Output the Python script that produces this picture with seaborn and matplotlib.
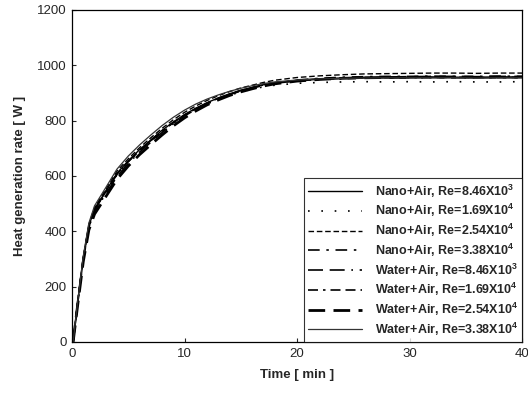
import numpy as np
import pandas as pd
import matplotlib
matplotlib.use("Agg")
import matplotlib.pyplot as plt
import seaborn as sns

# ---- data ----
time_min = [0.1, 0.5, 1.0, 1.5, 2, 3, 4, 5, 6, 7, 8, 9, 10, 11, 12, 13, 14, 15,
            16, 17, 18, 20, 22, 24, 26, 28, 30, 32, 34, 36, 38, 40]

nano_846e3 = [0, 140, 300, 420, 480, 545, 610, 655, 695, 730, 765, 795, 822, 845, 865, 882,
              897, 910, 920, 930, 937, 946, 951, 954, 956, 957, 957, 958, 957, 957, 958, 958]
nano_169e4 = [0, 135, 295, 415, 475, 540, 605, 650, 690, 725, 758, 790, 818, 840, 860, 878,
              892, 904, 914, 922, 928, 935, 938, 940, 941, 940, 941, 940, 941, 940, 940, 941]
nano_254e4 = [0, 145, 305, 425, 485, 552, 618, 662, 702, 738, 772, 803, 830, 853, 873, 890,
              905, 918, 928, 938, 946, 956, 962, 966, 969, 970, 971, 972, 972, 971, 972, 972]
nano_338e4 = [0, 140, 300, 418, 478, 542, 606, 652, 692, 728, 762, 793, 820, 843, 863, 880,
              895, 908, 919, 929, 937, 947, 953, 957, 959, 960, 960, 961, 960, 960, 961, 960]
water_846e3 = [0, 138, 298, 415, 472, 535, 598, 645, 686, 722, 757, 789, 817, 841, 862, 879,
               894, 907, 918, 927, 935, 944, 949, 952, 954, 955, 955, 956, 955, 955, 956, 955]
water_169e4 = [0, 140, 302, 420, 478, 543, 607, 652, 692, 728, 762, 793, 820, 843, 863, 881,
               896, 909, 919, 929, 936, 945, 950, 953, 955, 956, 956, 956, 957, 956, 956, 957]
water_254e4 = [0, 132, 290, 405, 462, 525, 588, 636, 677, 713, 748, 781, 810, 835, 857, 875,
               891, 904, 915, 925, 933, 943, 949, 953, 955, 956, 957, 958, 958, 957, 958, 958]
water_338e4 = [0, 145, 310, 430, 492, 558, 625, 672, 712, 748, 782, 812, 838, 860, 878, 893,
               906, 917, 926, 934, 940, 947, 951, 953, 954, 955, 955, 955, 955, 954, 955, 955]

labels = [
    r"Nano+Air, Re=8.46X10$^{3}$",
    r"Nano+Air, Re=1.69X10$^{4}$",
    r"Nano+Air, Re=2.54X10$^{4}$",
    r"Nano+Air, Re=3.38X10$^{4}$",
    r"Water+Air, Re=8.46X10$^{3}$",
    r"Water+Air, Re=1.69X10$^{4}$",
    r"Water+Air, Re=2.54X10$^{4}$",
    r"Water+Air, Re=3.38X10$^{4}$",
]
series = [nano_846e3, nano_169e4, nano_254e4, nano_338e4,
          water_846e3, water_169e4, water_254e4, water_338e4]

x_ticks = [0, 10, 20, 30, 40]
y_ticks = [0, 200, 400, 600, 800, 1000, 1200]

# ---- styles ----
styles = [
    dict(ls="-", lw=1.0, color="black"),
    dict(ls=(0, (1, 7)), lw=1.2, color="black"),
    dict(ls=(0, (4, 2)), lw=1.0, color="black"),
    dict(ls=(0, (7, 4, 1.5, 4)), lw=1.2, color="black"),
    dict(ls=(0, (9, 4, 9, 4, 1, 4)), lw=1.2, color="black"),
    dict(ls=(0, (6, 3, 1.5, 3, 6, 3)), lw=1.2, color="black"),
    dict(ls=(0, (6, 3)), lw=2.0, color="black"),
    dict(ls="-", lw=0.9, color="#333333"),
]

sns.set_style("ticks")
plt.rcParams["font.family"] = ["Liberation Sans", "DejaVu Sans"]
plt.rcParams["mathtext.fontset"] = "custom"
plt.rcParams["mathtext.rm"] = "Liberation Sans:bold"
plt.rcParams["mathtext.default"] = "rm"

fig = plt.figure(figsize=(5.28, 3.93), dpi=100)
ax = fig.add_axes([72/528, 51/393, 450/528, 332/393])

rows = []
for lab, vals in zip(labels, series):
    for t, v in zip(time_min, vals):
        rows.append((lab, t, v))
df = pd.DataFrame(rows, columns=["series", "time", "q"])

for lab, st in zip(labels, styles):
    sub = df[df["series"] == lab]
    sns.lineplot(data=sub, x="time", y="q", ax=ax, label=lab,
                 linestyle=st["ls"], linewidth=st["lw"], color=st["color"])

ax.set_xlim(0, 40)
ax.set_ylim(0, 1200)
ax.set_xticks(x_ticks)
ax.set_yticks(y_ticks)
ax.tick_params(direction="in", length=3, width=0.8, labelsize=9.5, pad=4,
               top=False, right=False)
for sp in ax.spines.values():
    sp.set_visible(True)
    sp.set_color("black")
    sp.set_linewidth(0.9)

ax.set_xlabel("Time [ min ]", fontsize=9.5, fontweight="bold", labelpad=7)
ax.set_ylabel("Heat generation rate [ W ]", fontsize=9.5, fontweight="bold", labelpad=8)

leg = ax.legend(loc="lower right", borderaxespad=0,
                prop=dict(family="Liberation Sans", weight="bold", size=9),
                handlelength=4.3, handletextpad=1.0, labelspacing=0.2,
                borderpad=0.35, frameon=True, fancybox=False, edgecolor="black")
leg.get_frame().set_linewidth(0.8)

fig.savefig("out.png", dpi=100)
